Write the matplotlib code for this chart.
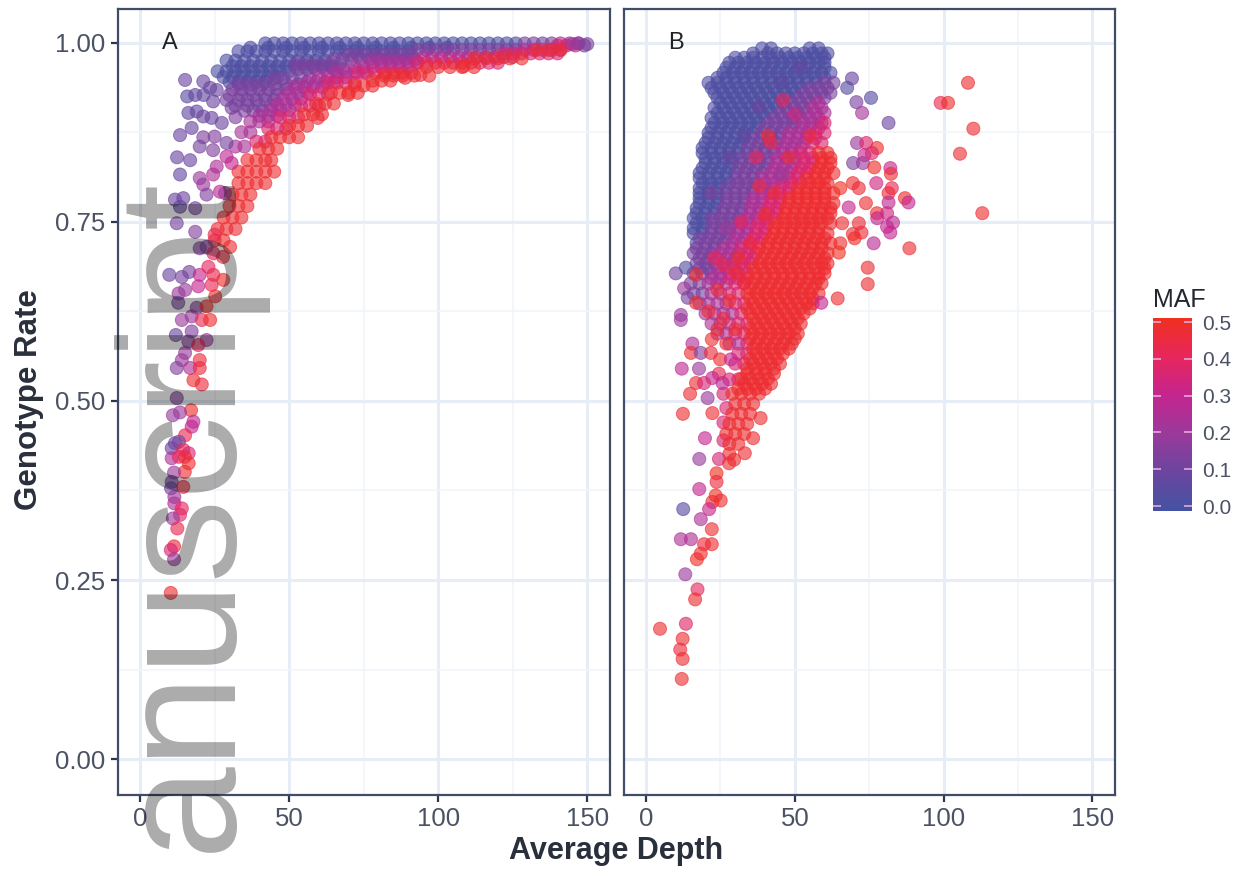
import matplotlib
matplotlib.use("Agg")
import matplotlib.pyplot as plt
from matplotlib.colors import LinearSegmentedColormap, Normalize
from matplotlib.cm import ScalarMappable

W, H = 1241, 869
FONT = "Liberation Sans"
plt.rcParams["font.family"] = FONT

x_ticks = [0, 50, 100, 150]
x_minor = [25, 75, 125]
y_ticks = [0.0, 0.25, 0.5, 0.75, 1.0]
y_minor = [0.125, 0.375, 0.625, 0.875]
y_labels = ["0.00", "0.25", "0.50", "0.75", "1.00"]
maf_ticks = [0.0, 0.1, 0.2, 0.3, 0.4, 0.5]
maf_colors = ["#4353A4", "#6B459F", "#9A3A9B", "#C4258F", "#E7265C", "#F0301F"]

maf_blue, maf_purple, maf_magenta, maf_rose, maf_red = 0.03, 0.13, 0.24, 0.36, 0.47

# ---- Panel A: dense upper band, rate -> depths
a_blue = {
 0.999: [42,45,48,51,54,57,60,63,66,69,72,75,78,81,84,87,90,93,96,99,102,105,108,111,114,117,120,123,126],
 0.993: [37,43,49,55,61,67,73,79,85,91,97,103],
 0.988: [33,36,39,42,45,48,51,54,57,60,63,66,69,72,75,78,81,84,87,90],
 0.975: [29,32,35,38,41,44,47,50,53,56,59,62],
 0.967: [31,34,37,40,43,46,49,52,55,58,61,64],
 0.960: [26,29,32,35,38,41,44,47,50],
 0.952: [28,31,34,37,40,43,46],
 0.945: [30,33,36,39,42],
}
a_purple = {
 0.999: [129,132,135,138],
 0.990: [93,96,99,102,105,108,111,114,117,120,123,126],
 0.983: [70,73,76,79,82,85,88,91],
 0.977: [65,68,71,74,77,80,83,86,89,92],
 0.970: [52,55,58,61,64,67],
 0.963: [53,56,59,62,65,68],
 0.950: [45,48,51,54,57],
 0.942: [33,37,41,45,49,53],
 0.935: [31,34,37,40,43,46,49],
 0.927: [30,34,38,42,46],
 0.920: [29,33,36,39,42,45],
 0.912: [32,36,40,44],
 0.905: [35,38,41],
}
a_magenta = {
 0.999: [141,144,147],
 0.990: [129,132,135,138,141],
 0.980: [95,98,101,104,107,110,113,116,119,122,125],
 0.973: [78,81,84,87,90,93],
 0.966: [72,75,78,81,84,87,90],
 0.959: [66,69,72,75],
 0.952: [60,63,66,69],
 0.945: [56,59,62,65],
 0.938: [52,55,58,61],
 0.930: [50,53,56],
 0.922: [48,51,54],
 0.914: [46,49,52],
 0.906: [44,47,50],
 0.898: [40,43,46],
 0.890: [37,40,43],
 0.875: [34,37],
 0.855: [32,35],
}
a_rose = {
 0.996: [140,143,146],
 0.985: [122,125,128,131,134,137,140],
 0.972: [93,96,99,102,105,108,111,114,117,120],
 0.958: [73,76,79,82,85,88,91],
 0.944: [63,66,69,72],
 0.928: [57,60,63],
 0.912: [54,57,60],
 0.896: [47,50,53],
 0.880: [43,46,49],
 0.862: [39,42],
}
a_red = {
 0.990: [133,137,141],
 0.978: [112,116,120,124,128],
 0.966: [96,100,104,108,112],
 0.954: [82,85,88,92,97],
 0.947: [78,81,84],
 0.940: [72,75,78],
 0.930: [64,67,70,73],
 0.915: [59,62,65],
 0.900: [55,58,61],
 0.884: [50,53,56],
 0.868: [44,47,50,53],
 0.852: [40,43,46],
 0.836: [36,39,42,44],
 0.820: [33,36,39,42,45],
 0.804: [33,36,39,42],
 0.788: [31,34,37],
 0.772: [30,33,36],
 0.756: [28,31,34],
 0.740: [26,29,32],
 0.724: [25,28],
}
# scattered points of panel A: depth, rate, MAF
a_sparse = [
 (15.1,.948,.10),(21.2,.946,.10),(23.5,.937,.10),(25.7,.934,.10),(15.8,.925,.05),(18.5,.927,.08),
 (21.3,.927,.08),(24.5,.918,.10),(16.2,.902,.08),(19,.904,.08),(21.2,.897,.10),(24,.895,.10),
 (27.4,.888,.10),(30.7,.909,.12),(32,.896,.15),(13.4,.871,.10),(17.3,.881,.10),(21.2,.868,.15),
 (25,.869,.15),(29,.86,.12),(20,.855,.12),(24.5,.85,.15),(12.4,.84,.10),(16.8,.836,.10),
 (29,.841,.28),(25.7,.827,.25),(30.7,.832,.30),(13.4,.816,.08),(20,.811,.20),(24.5,.816,.25),
 (21.2,.802,.20),(11.7,.781,.10),(14.5,.783,.10),(22.3,.788,.15),(26.8,.792,.30),(28.5,.79,.20),
 (13.4,.771,.08),(18.5,.769,.12),(12.3,.748,.12),(18.5,.736,.15),(22.3,.715,.15),(20,.713,.15),
 (25,.732,.42),(27.8,.701,.45),(30.2,.715,.47),(24.6,.706,.40),(9.8,.676,.10),(14,.673,.12),
 (16.5,.68,.12),(20,.676,.30),(22.9,.687,.40),(24.6,.676,.42),(27.9,.669,.48),(24,.662,.42),
 (19.5,.66,.30),(12.9,.65,.20),(15.1,.655,.20),(25.2,.646,.47),(12.8,.637,.12),(19,.63,.15),
 (22.3,.632,.48),(14,.613,.20),(17.3,.618,.20),(20.7,.613,.42),(23.5,.613,.47),(17.3,.597,.15),
 (12,.592,.10),(16.2,.583,.15),(22.3,.585,.20),(19.5,.578,.40),(15.1,.567,.20),(20,.557,.45),
 (14,.557,.20),(12.3,.546,.15),(16.8,.546,.25),(20,.546,.45),(17.9,.529,.47),(20.7,.523,.45),
 (12.3,.504,.15),(17.1,.487,.48),(11,.48,.20),(13.4,.484,.20),(17.9,.471,.27),(17.3,.464,.30),
 (15.1,.452,.42),(11.7,.441,.10),(10.6,.434,.10),(13,.443,.12),(14.5,.432,.40),(16.3,.427,.35),
 (10.6,.42,.25),(13,.422,.40),(15,.422,.45),(16.3,.413,.47),(15,.401,.47),(11.4,.40,.20),
 (10.6,.387,.10),(10.4,.378,.12),(14.5,.38,.45),(11.5,.366,.20),(11.5,.357,.25),(14,.35,.40),
 (13.4,.341,.38),(11,.336,.20),(12.5,.322,.42),(11.4,.297,.45),(10.3,.292,.35),(11.4,.279,.20),
 (10.3,.232,.47),
 (88.9,.951,.47),(94,.955,.46),(108.5,.967,.47),(69.8,.927,.47),(59.6,.895,.46),
 (150,.998,.14),(149,.996,.14),(147,.999,.16),(145,.998,.2),
]

# ---- Panel B: dense cloud, rate -> depths
b_blue = {
 0.992: [39,42,55,58],
 0.985: [36,41,44,47,50,53,56,59,61],
 0.979: [30,33,36,39,42,45,48,51,54,57,60],
 0.972: [28,31,34,37,40,43,46,49,52,55,58,60],
 0.965: [27,30,33,36,39,42,45,48,51,54,57,60],
 0.958: [26,29,32,35,38,41,44,47,50,53,56,59,62],
 0.951: [24,27,30,33,36,39,42,45,48,51,54,57,60],
 0.944: [21,24,27,30,33,36,39,42,45,48,51,54,57],
 0.937: [22,25,28,31,34,37,40,43,46,49,52],
 0.930: [23,26,29,32,35,38,41,44,47,50],
 0.923: [24,27,30,33,36,39,42,45,48],
 0.916: [25,28,31,34,37,40,43,46],
 0.909: [23,26,29,32,35,38,41,44],
 0.902: [24,27,30,33,36,39,42],
 0.895: [22,25,28,31,34,37,40],
 0.888: [23,26,29,32,35,38],
 0.881: [22,25,28,31,34,37],
 0.874: [21,24,27,30,33,36],
 0.867: [21,24,27,30,33],
 0.860: [20,23,26,29,32,35],
 0.853: [19,22,25,28,31],
 0.846: [19,22,25,28,31,34],
 0.839: [20,23,26,29],
 0.832: [20,23,26,29,32],
 0.825: [19,22,25,28],
 0.818: [18,21,24,27,30],
 0.811: [18,21,24,27],
 0.804: [19,22,25,28],
 0.797: [18,21,24],
 0.790: [18,21,24,27],
 0.783: [18,21,24],
 0.776: [18,21,24],
 0.769: [17,20,23],
 0.762: [17,20,23],
 0.755: [16,19],
 0.748: [17,20],
 0.741: [16,19],
 0.734: [16,19],
 0.720: [17],
}
b_purple = {
 0.944: [60,63],
 0.937: [55,58,61],
 0.930: [53,56,59,62],
 0.923: [51,54,57,60],
 0.916: [49,52,55],
 0.909: [47,50,53],
 0.902: [45,48,51,54],
 0.895: [43,46,49,52],
 0.888: [41,44,47,50],
 0.881: [40,43,46,49],
 0.874: [39,42,45],
 0.867: [36,39,42,45],
 0.860: [38,41,44],
 0.853: [34,37,40,43],
 0.846: [37,40,43],
 0.839: [32,35,38,41],
 0.832: [35,38,41],
 0.825: [31,34,37,40],
 0.818: [33,36,39],
 0.811: [30,33,36],
 0.804: [31,34,37],
 0.797: [27,30,33,36],
 0.790: [30,33,36],
 0.783: [27,30,33],
 0.776: [27,30,33],
 0.769: [26,29,32],
 0.762: [26,29,32],
 0.755: [22,25,28,31],
 0.748: [23,26,29],
 0.741: [22,25,28],
 0.734: [22,25,28],
 0.727: [18,21,24,27],
 0.720: [20,23,26],
 0.713: [17,20,23],
 0.706: [16,19,22],
 0.699: [18,21],
 0.692: [17,20,23],
 0.685: [18,21],
 0.678: [16,19,22],
 0.664: [15,18],
 0.650: [16,19],
 0.636: [18],
}
b_magenta = {
 0.916: [58],
 0.909: [56,59],
 0.902: [57,60],
 0.895: [55,58],
 0.888: [53,56,59],
 0.881: [52,55,58],
 0.874: [48,51,54],
 0.867: [48,51,54],
 0.860: [47,50,53],
 0.853: [46,49,52],
 0.846: [46,49],
 0.839: [44,47,50],
 0.832: [44,47,50],
 0.825: [43,46,49],
 0.818: [42,45,48],
 0.811: [39,42,45],
 0.804: [40,43,46],
 0.797: [39,42],
 0.790: [39,42],
 0.783: [36,39],
 0.776: [36,39],
 0.769: [35,38],
 0.762: [35,38],
 0.755: [34,37],
 0.748: [32,35],
 0.741: [31,34],
 0.734: [31,34],
 0.727: [30,33],
 0.720: [29,32],
 0.713: [26,29],
 0.706: [25,28,31],
 0.699: [24,27,30],
 0.692: [26,29],
 0.685: [24,27],
 0.678: [25,28],
 0.671: [22,25],
 0.664: [21,24,27],
 0.650: [22,25],
 0.636: [21,24,27],
 0.622: [20,23,26,29],
 0.608: [22,25,28],
 0.594: [24,27],
 0.580: [28,31],
}
b_rose = {
 0.888: [60],
 0.874: [57,60],
 0.867: [57],
 0.860: [56,59],
 0.846: [52,55],
 0.839: [53,56],
 0.832: [53,56],
 0.825: [52,55],
 0.818: [51,54],
 0.811: [48,51],
 0.804: [49,52],
 0.797: [45,48],
 0.790: [45,48],
 0.783: [42,45],
 0.776: [42,45],
 0.769: [41,44],
 0.762: [41,44],
 0.755: [40,43],
 0.748: [38,41],
 0.741: [37,40],
 0.734: [37,40],
 0.727: [36,39],
 0.720: [35,38],
 0.713: [32,35],
 0.706: [34,37],
 0.699: [33,36],
 0.692: [32,35],
 0.685: [30,33],
 0.678: [31,34],
 0.671: [28,31],
 0.664: [30,33],
 0.650: [28,31],
 0.636: [30,33],
 0.622: [32],
 0.608: [31,34],
 0.594: [30,33],
 0.580: [34],
 0.566: [31,34],
 0.552: [30,33],
 0.530: [28,31],
 0.510: [26],
 0.490: [27],
 0.470: [26],
 0.445: [26],
}
b_red = {
 0.846: [58,61],
 0.839: [59,62],
 0.832: [59,62],
 0.825: [58,61],
 0.818: [57,60,63],
 0.811: [54,57,60],
 0.804: [55,58,61],
 0.797: [51,54,57,60],
 0.790: [51,54,57,60,63],
 0.783: [48,51,54,57,60],
 0.776: [48,51,54,57,60,63],
 0.769: [47,50,53,56,59,62],
 0.762: [47,50,53,56,59,62],
 0.755: [46,49,52,55,58,61],
 0.748: [44,47,50,53,56,59,62],
 0.741: [43,46,49,52,55,58],
 0.734: [43,46,49,52,55,58,61],
 0.727: [42,45,48,51,54,57,60],
 0.720: [41,44,47,50,53,56,59,62],
 0.713: [38,41,44,47,50,53,56,59],
 0.706: [40,43,46,49,52,55,58,61],
 0.699: [39,42,45,48,51,54,57,60],
 0.692: [38,41,44,47,50,53,56,59,61],
 0.685: [36,39,42,45,48,51,54,57,60],
 0.678: [37,40,43,46,49,52,55,58,60],
 0.671: [34,37,40,43,46,49,52,55,58],
 0.664: [36,39,42,45,48,51,54,57,59],
 0.657: [35,38,41,44,47,50,53,56],
 0.650: [34,37,40,43,46,49,52,55,58],
 0.643: [35,38,41,44,47,50,53,56],
 0.636: [36,39,42,45,48,51,54,56],
 0.629: [34,37,40,43,46,49,52,55],
 0.622: [35,38,41,44,47,50,53],
 0.615: [36,39,42,45,48,51],
 0.608: [37,40,43,46,49,52],
 0.601: [35,38,41,44,47,50],
 0.594: [36,39,42,45,48,51],
 0.587: [35,38,41,44,47,50],
 0.580: [37,40,43,46,49],
 0.573: [36,39,42,45,48],
 0.566: [37,40,43,46],
 0.559: [35,38,41,44],
 0.552: [36,39,42,45],
 0.545: [34,37,40,43],
 0.538: [34,37,40,43],
 0.531: [32,35,38,41],
 0.524: [33,36,39,42],
 0.517: [31,34,37,40],
 0.510: [29,32,35,38],
 0.496: [30,33,36],
 0.482: [29,32,35],
 0.468: [28,31,34],
 0.454: [27,30,33],
 0.440: [28,31],
 0.426: [28],
}
# scattered points of panel B: depth, rate, MAF
b_sparse = [
 (69.2,.95,.10),(67.6,.937,.05),(75.6,.923,.05),(70.7,.917,.13),(72.6,.902,.22),(81.5,.888,.10),
 (70.9,.86,.20),(74,.86,.37),(77.6,.853,.48),(73.4,.843,.30),(75.9,.846,.37),(69.6,.832,.15),
 (72.9,.832,.20),(76.7,.826,.48),(82.1,.825,.30),(82.3,.817,.47),(69.5,.804,.47),(71.5,.797,.46),
 (77.4,.804,.33),(82.6,.797,.42),(81.5,.79,.46),(65.3,.797,.50),(73.9,.776,.47),(87,.783,.48),
 (88.2,.777,.30),(81.5,.777,.28),(68.1,.77,.30),(77.6,.762,.47),(81,.762,.33),(77.7,.755,.30),
 (83,.749,.28),(81,.743,.30),(65.9,.748,.47),(71.5,.748,.46),(69.5,.733,.47),(72.4,.735,.46),
 (70.1,.727,.48),(82.1,.735,.30),(76.5,.72,.27),(88.5,.713,.47),(65.3,.72,.47),(64.8,.707,.50),
 (74.5,.686,.47),(74.5,.663,.47),(64.4,.643,.47),(58.9,.637,.30),
 (108.2,.944,.47),(99,.916,.42),(101.5,.916,.48),(110,.88,.47),(105.5,.845,.47),(113,.762,.47),
 (10,.678,.12),(13.4,.686,.04),(16.8,.676,.47),(12.8,.657,.20),(14,.644,.12),(16.8,.637,.47),
 (11.7,.62,.20),(11.7,.613,.20),(15.6,.58,.25),(22.1,.586,.47),(15.1,.567,.47),(18.4,.567,.15),
 (21.8,.567,.45),(24.9,.558,.47),(28.5,.558,.30),(12,.545,.28),(17.8,.545,.20),(24.5,.538,.42),
 (22.3,.532,.30),(16.8,.525,.47),(19.5,.525,.35),(25.7,.525,.28),(14.8,.51,.47),(20.7,.504,.20),
 (22.3,.483,.47),(12.4,.482,.47),(38.5,.476,.47),(19.8,.448,.30),(36,.448,.47),(33.2,.427,.47),
 (17.9,.419,.20),(24.5,.419,.35),(27.9,.413,.47),(29.6,.418,.47),(23.7,.399,.50),(23.7,.387,.45),
 (17.9,.377,.30),(23.4,.368,.50),(25.1,.361,.47),(22.3,.359,.47),(21.2,.349,.30),(12.5,.349,.05),
 (18.4,.335,.25),(22.1,.321,.47),(11.7,.307,.25),(15.1,.307,.25),(19.5,.30,.45),(22.1,.30,.47),
 (18.4,.287,.47),(17.1,.279,.48),(13.2,.258,.20),(17.3,.237,.40),(16.5,.223,.47),(13.4,.189,.38),
 (4.7,.182,.47),(12.3,.168,.47),(11.5,.153,.45),(12.3,.14,.47),(12,.112,.47),
 (46,.92,.40),(41,.87,.47),(37,.84,.40),(31,.70,.47),(46,.815,.20),
 (24,.655,.46),(28,.64,.47),(21,.625,.46),(26,.615,.45),(30,.60,.47),(24,.60,.46),(27,.58,.47),
 (33,.665,.45),(30,.68,.46),(26,.69,.42),(35,.72,.44),(23,.70,.40),(32,.75,.40),(38,.80,.44),
 (42,.86,.42),(50,.90,.34),(55,.87,.44),(48,.84,.46),(43,.79,.46),(40,.76,.47),
 (27,.74,.20),(22,.79,.14),(28,.84,.10),(33,.87,.07),(38,.91,.10),(46,.945,.06),(52,.965,.08),
]


def flatten(tiers, sparse):
    xs, ys, cs = [], [], []
    for maf, rows in tiers:
        for rate, depths in rows.items():
            for d in depths:
                xs.append(d); ys.append(rate); cs.append(maf)
    for d, r, m in sparse:
        xs.append(d); ys.append(r); cs.append(m)
    return xs, ys, cs


cmap = LinearSegmentedColormap.from_list("maf", maf_colors)
norm = Normalize(0, 0.5)
TEXT = "#4a5263"
EDGE = "#414c66"
GRID = "#e6edf6"
GRID2 = "#f1f5fa"


def panel(rect, tiers, sparse, letter, show_y):
    l, t, r, b = rect
    ax = fig.add_axes([l / W, 1 - b / H, (r - l) / W, (b - t) / H])
    ax.set_xlim(-7.4, 157.6)
    ax.set_ylim(-0.05, 1.047)
    ax.set_axisbelow(True)
    ax.set_xticks(x_ticks)
    ax.set_xticks(x_minor, minor=True)
    ax.set_yticks(y_ticks)
    ax.set_yticks(y_minor, minor=True)
    ax.grid(True, which="major", color=GRID, lw=2.2)
    ax.grid(True, which="minor", color=GRID2, lw=1.2)
    ax.tick_params(which="minor", length=0)
    ax.tick_params(which="major", length=5, width=1.6, color="#2d3550",
                   labelsize=18.5, labelcolor=TEXT, pad=4)
    if show_y:
        ax.set_yticklabels(y_labels)
    else:
        ax.tick_params(axis="y", which="major", length=0, labelleft=False)
    for s in ax.spines.values():
        s.set_color(EDGE)
        s.set_linewidth(1.6)
    xs, ys, cs = flatten(tiers, sparse)
    ax.scatter(xs, ys, c=cs, cmap=cmap, norm=norm, s=88, alpha=0.62,
               edgecolors="face", linewidths=0.7, clip_on=True)
    ax.text(10, 1.0, letter, fontsize=17, color="#222222", ha="center", va="center")
    return ax


fig = plt.figure(figsize=(W / 100, H / 100), dpi=100, facecolor="white")

panel((118, 9, 610, 795),
      [(maf_blue, a_blue), (maf_purple, a_purple), (maf_magenta, a_magenta),
       (maf_rose, a_rose), (maf_red, a_red)], a_sparse, "A", True)
panel((624, 9, 1115, 795),
      [(maf_blue, b_blue), (maf_purple, b_purple), (maf_magenta, b_magenta),
       (maf_rose, b_rose), (maf_red, b_red)], b_sparse, "B", False)

fig.text(616 / W, 1 - 851 / H, "Average Depth", fontsize=22, fontweight="bold",
         color="#2a2f3c", ha="center", va="center")
fig.text(29 / W, 1 - 400 / H, "Genotype Rate", fontsize=22.5, fontweight="bold",
         color="#2a2f3c", rotation=90, ha="center", va="center")

# colour legend
cax = fig.add_axes([1153 / W, 1 - 511 / H, 39 / W, 193 / H])
sm = ScalarMappable(norm=Normalize(-0.0135, 0.511), cmap=cmap)
cb = fig.colorbar(sm, cax=cax, ticks=maf_ticks)
cb.outline.set_visible(False)
cb.ax.set_yticklabels([f"{t:.1f}" for t in maf_ticks])
cb.ax.tick_params(left=True, right=True, direction="in", length=6, width=1.2,
                  color="#e9a6dc", labelsize=15, labelcolor=TEXT, pad=7)
fig.text(1153 / W, 1 - 300 / H, "MAF", fontsize=18, color="#22262f", ha="left", va="center")

# publisher's watermark laid over the figure
fig.text(229 / W, 1 - 852 / H, "anuscript", fontsize=120, color="black", alpha=0.33,
         family=FONT, rotation=90, rotation_mode="anchor", ha="left", va="baseline", zorder=10)

fig.savefig("out.png", dpi=100)
